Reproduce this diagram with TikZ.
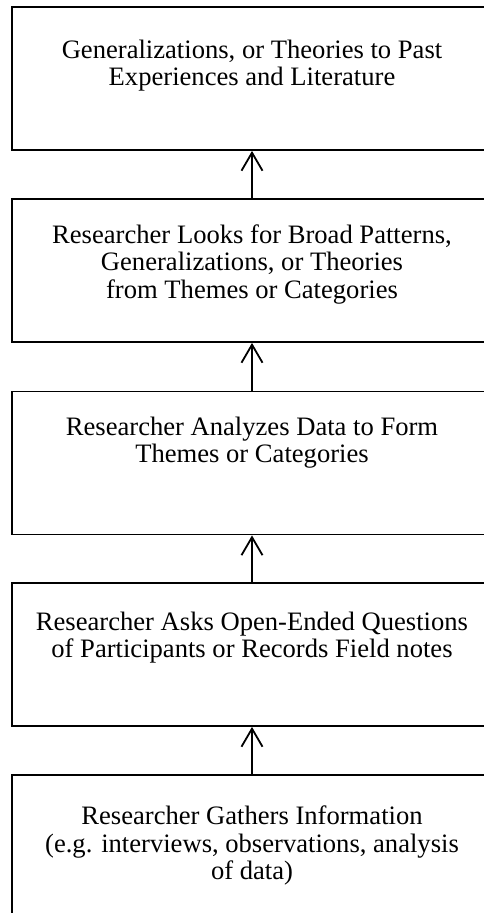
\documentclass[tikz,border=0pt]{standalone}
\usepackage{fontspec}
\setmainfont{Liberation Serif}
\usetikzlibrary{positioning,arrows.meta}

\begin{document}
\begin{tikzpicture}[x=1pt, y=-1pt,
  stepbox/.style={draw, line width=1.8pt, minimum width=480pt, minimum height=143pt, inner sep=0pt},
  steptext/.style={inner sep=0pt, align=center, font=\fontsize{26.6pt}{27.6pt}\selectfont},
  flowarrow/.style={line width=1.8pt, -{Straight Barb[length=18pt,width=21pt]}}]
  \useasboundingbox (0,0) rectangle (484,913);
  \clip (0,0) rectangle (484,913);
  % box 1 (top)
  \node[stepbox] (b1) at (252,78.5) {};
  \node[steptext, below=33.5pt of b1.north] (t1) {Generalizations, or Theories to Past\\Experiences and Literature};
  % box 2
  \node[stepbox] (b2) at (252,270.5) {};
  \node[steptext, below=26pt of b2.north] (t2) {Researcher Looks for Broad Patterns,\\Generalizations, or Theories\\from Themes or Categories};
  % box 3
  \node[stepbox] (b3) at (252,463) {};
  \node[steptext, below=26pt of b3.north] (t3) {Researcher Analyzes Data to Form\\Themes or Categories};
  % box 4
  \node[stepbox] (b4) at (252,654.5) {};
  \node[steptext, below=29.5pt of b4.north] (t4) {Researcher Asks Open-Ended Questions\\of Participants or Records Field notes};
  % box 5 (bottom)
  \node[stepbox] (b5) at (252,846.5) {};
  \node[steptext, below=31.5pt of b5.north] (t5) {Researcher Gathers Information\\(e.g. interviews, observations, analysis\\of data)};
  % arrows
  \foreach \lo/\hi in {b2/b1,b3/b2,b4/b3,b5/b4}
    \draw[flowarrow] (\lo.north) -- (\hi.south);
\end{tikzpicture}
\end{document}
